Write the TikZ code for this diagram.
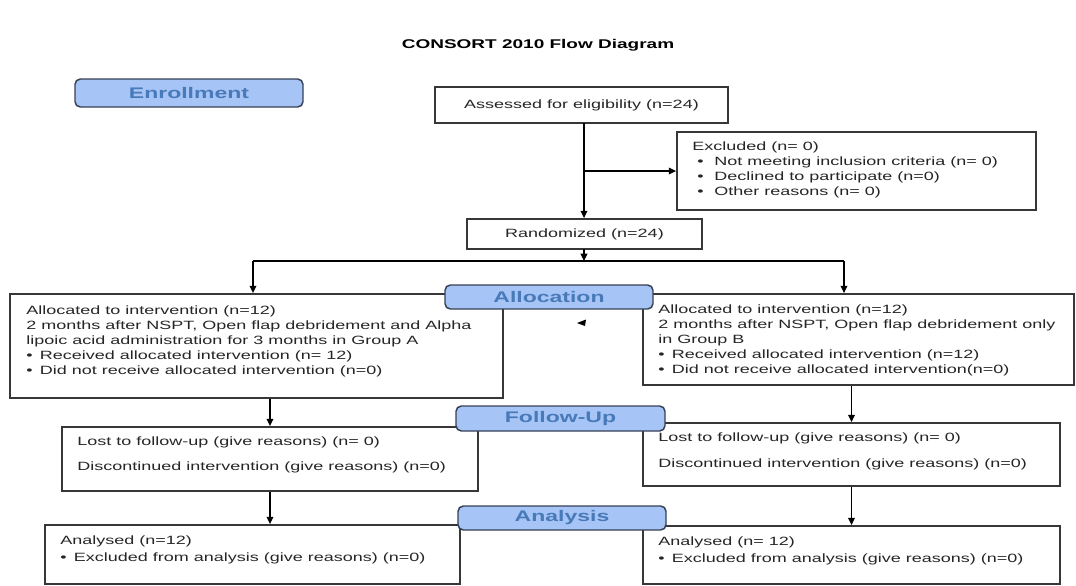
\documentclass[tikz,border=0pt]{standalone}
\usepackage{fontspec}
\setmainfont{Liberation Sans}
\usepackage{graphicx}
\usetikzlibrary{arrows.meta,fit,calc}
\definecolor{lblfill}{RGB}{166,196,245}
\definecolor{lbltext}{RGB}{72,122,185}
\definecolor{lbldraw}{RGB}{55,65,85}
\definecolor{boxdraw}{RGB}{55,55,55}
\newcommand{\sx}[1]{\scalebox{1.5}[1]{#1}}
\newcommand{\bul}{\makebox[6.8pt][l]{\textbullet}}
\newcommand{\xbul}{\hspace{2.5pt}\makebox[8.5pt][l]{\textbullet}}
\begin{document}
\begin{tikzpicture}[x=0.75pt,y=-0.75pt,
  box/.style={draw=boxdraw,line width=1.3pt,inner sep=0pt,fill=white},
  lbl/.style={draw=lbldraw,line width=1.1pt,fill=lblfill,rounded corners=4pt,inner sep=0pt},
  lbltxt/.style={text=lbltext,font=\bfseries\fontsize{11.5}{13}\selectfont,inner sep=0pt},
  txt/.style={inner sep=0pt,anchor=north west,font=\fontsize{9}{11.25}\selectfont,text=black!85},
  ctxt/.style={inner sep=0pt,font=\fontsize{9}{11.25}\selectfont,text=black!85},
  arr/.style={line width=1.2pt,-{Triangle[length=5.5pt,width=5pt]}},
  ln/.style={line width=1.2pt}]
\path[use as bounding box] (0,0) rectangle (1076,586);

% title
\node[font=\bfseries\fontsize{9.5}{11}\selectfont] (title) at (538,45) {\sx{CONSORT 2010 Flow Diagram}};

% boxes
\node[box, fit={(435,87) (728,123)}] (assess) {};
\node[ctxt] (assessT) at (assess.center) {\sx{Assessed for eligibility (n=24)}};

\node[box, fit={(677,132) (1036,210)}] (excl) {};
\node[txt] (exclT) at (692,139.5) {\sx{\begin{tabular}{@{}l@{}}Excluded (n= 0)\\
\xbul Not meeting inclusion criteria (n= 0)\\
\xbul Declined to participate (n=0)\\
\xbul Other reasons (n= 0)\end{tabular}}};

\node[box, fit={(467,219) (702,249)}] (rand) {};
\node[ctxt] (randT) at (rand.center) {\sx{Randomized (n=24)}};

\node[box, fit={(10,294) (503,398)}] (allocA) {};
\node[txt] (allocAT) at (26,303.5) {\sx{\begin{tabular}{@{}l@{}}Allocated to intervention (n=12)\\
2 months after NSPT, Open flap debridement and Alpha\\
lipoic acid administration for 3 months in Group A\\
\bul Received allocated intervention (n= 12)\\
\bul Did not receive allocated intervention (n=0)\end{tabular}}};

\node[box, fit={(643,294) (1074,385)}] (allocB) {};
\node[txt] (allocBT) at (658,302.5) {\sx{\begin{tabular}{@{}l@{}}Allocated to intervention (n=12)\\
2 months after NSPT, Open flap debridement only\\
in Group B\\
\bul Received allocated intervention (n=12)\\
\bul Did not receive allocated intervention(n=0)\end{tabular}}};

\node[box, fit={(62,427) (478,491)}] (fuA) {};
\node[txt] (fuAT) at (77,434.5) {\sx{\begin{tabular}{@{}l@{}}Lost to follow-up (give reasons) (n= 0)\\[7.9pt]
Discontinued intervention (give reasons) (n=0)\end{tabular}}};

\node[box, fit={(643,423) (1060,486)}] (fuB) {};
\node[txt] (fuBT) at (658,430.5) {\sx{\begin{tabular}{@{}l@{}}Lost to follow-up (give reasons) (n= 0)\\[8.2pt]
Discontinued intervention (give reasons) (n=0)\end{tabular}}};

\node[box, fit={(45,525) (460,584)}] (anA) {};
\node[txt] (anAT) at (60,534) {\sx{\begin{tabular}{@{}l@{}}Analysed (n=12)\\[1.5pt]
\bul Excluded from analysis (give reasons) (n=0)\end{tabular}}};

\node[box, fit={(643,526) (1060,584)}] (anB) {};
\node[txt] (anBT) at (658,534.5) {\sx{\begin{tabular}{@{}l@{}}Analysed (n= 12)\\[1.5pt]
\bul Excluded from analysis (give reasons) (n=0)\end{tabular}}};

% stage labels
\node[lbl, fit={(75,79) (303,107)}] (enroll) {};
\node[lbltxt] (enrollT) at (enroll.center) {\sx{Enrollment}};
\node[lbl, fit={(445,285) (653,309)}] (allocL) {};
\node[lbltxt] (allocLT) at (allocL.center) {\sx{Allocation}};
\node[lbl, fit={(456,406) (665,431)}] (fuL) {};
\node[lbltxt] (fuLT) at (fuL.center) {\sx{Follow-Up}};
\node[lbl, fit={(458,506) (666,530)}] (anL) {};
\node[lbltxt] (anLT) at (anL.center) {\sx{Analysis}};

% connectors
\coordinate (a1) at (584,123);
\coordinate (a2) at (584,171);
\draw[arr] (a1) -- (a1 |- rand.north);
\draw[arr] (a2) -- (excl.west);

\coordinate (r1) at (584,249);
\coordinate (jm) at (584,261);
\coordinate (jA) at (253,261);
\coordinate (jB) at (844,261);
\draw[arr] (r1) -- (jm);
\draw[ln] (jA) -- (jB);
\draw[arr] (jA) -- (jA |- allocA.north);
\draw[arr] (jB) -- (jB |- allocB.north);

\draw[arr] (fuA.north |- allocA.south) -- (fuA.north);
\draw[arr] (fuB.north |- allocB.south) -- (fuB.north);
\draw[arr] (fuA.south) -- (fuA.south |- anA.north);
\draw[arr] (fuB.south) -- (fuB.south |- anB.north);

% stray arrowhead
\fill (577,323) -- (586,319.5) -- (585,326) -- cycle;
\end{tikzpicture}
\end{document}
